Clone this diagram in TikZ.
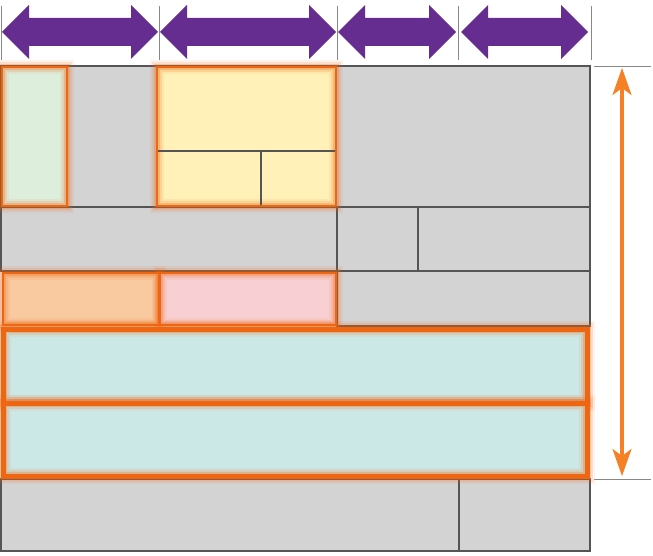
\documentclass[tikz,border=0pt]{standalone}
\usetikzlibrary{arrows.meta}
\definecolor{arrowpurple}{HTML}{662D91}
\definecolor{arroworange}{HTML}{F58025}
\definecolor{glow}{HTML}{EE6512}
\definecolor{boxgrey}{HTML}{D3D3D3}
\definecolor{edgegrey}{HTML}{555555}
\definecolor{tickgrey}{HTML}{888888}
\definecolor{cellgreen}{HTML}{DDEEDD}
\definecolor{cellyellow}{HTML}{FFF1B8}
\definecolor{cellorange}{HTML}{F9C9A0}
\definecolor{cellpink}{HTML}{F8D0D4}
\definecolor{cellteal}{HTML}{CCE8E6}
\tikzset{
	greybox/.style={fill=boxgrey, draw=edgegrey, line width=1.6pt},
	glowbox/.style={fill=#1, draw=glow, line width=2.8pt,
		postaction={draw=glow, line width=14pt, opacity=0.08},
		postaction={draw=glow, line width=10pt, opacity=0.14},
		postaction={draw=glow, line width=6pt, opacity=0.25}},
	wideglow/.style={fill=#1, draw=glow, line width=5pt,
		postaction={draw=glow, line width=16pt, opacity=0.08},
		postaction={draw=glow, line width=12pt, opacity=0.14},
		postaction={draw=glow, line width=8pt, opacity=0.25}},
	tick/.style={draw=tickgrey, line width=0.8pt}
}
\begin{document}
\begin{tikzpicture}[x=1pt, y=-1pt]
	\useasboundingbox (0,0) rectangle (653,556);
	% grey cells
	\filldraw[greybox] (1,66) rectangle (590,207);
	\filldraw[greybox] (1,207) rectangle (337,271);
	\filldraw[greybox] (337,207) rectangle (418,271);
	\filldraw[greybox] (418,207) rectangle (590,271);
	\filldraw[greybox] (337,271) rectangle (590,326);
	\filldraw[greybox] (1,479) rectangle (459,551);
	\filldraw[greybox] (459,479) rectangle (590,551);
	% highlighted cells
	\filldraw[glowbox=cellgreen] (2,67) rectangle (67,206);
	\filldraw[glowbox=cellyellow] (157,67) rectangle (336,206);
	\draw[edgegrey, line width=1.6pt] (158,151) -- (335,151) (261,151) -- (261,205);
	\filldraw[glowbox=cellorange] (3,273) rectangle (159,325);
	\filldraw[glowbox=cellpink] (160,273) rectangle (336,325);
	\filldraw[wideglow=cellteal] (3,329) rectangle (587,403);
	\filldraw[wideglow=cellteal] (3,403) rectangle (587,476);
	% ticks
	\foreach \x in {1,159,337,458,591}
		\draw[tick] (\x,6) -- (\x,60);
	\draw[tick] (594,66) -- (651,66);
	\draw[tick] (594,479) -- (651,479);
	% width arrows
	\foreach \a/\b in {2/158, 160/336, 338/456, 461/588}
		\fill[arrowpurple] (\a,32) -- (\a+27,5) -- (\a+27,18) -- (\b-27,18) -- (\b-27,5)
			-- (\b,32) -- (\b-27,59) -- (\b-27,46) -- (\a+27,46) -- (\a+27,59) -- cycle;
	% height arrow
	\coordinate (htop) at (622,68);
	\coordinate (hbot) at (622,476);
	\draw[arroworange, line width=3.5pt, {Stealth[length=27pt, width=19pt, inset=7pt]}-{Stealth[length=27pt, width=19pt, inset=7pt]}] (htop) -- (hbot);
\end{tikzpicture}
\end{document}
